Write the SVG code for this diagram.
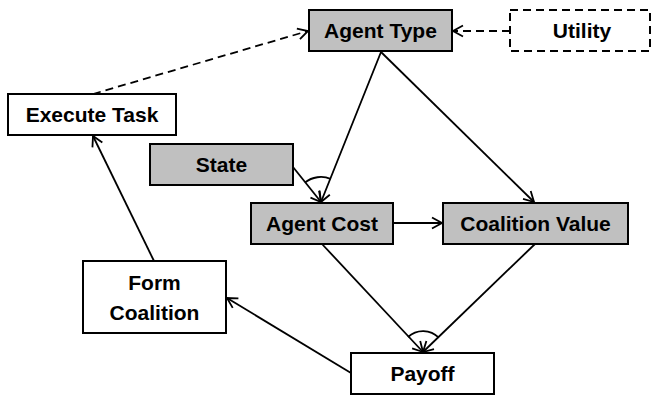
<svg xmlns="http://www.w3.org/2000/svg" width="652" height="397" viewBox="0 0 652 397">
<style>
.box{stroke:#000;stroke-width:2}
.g{fill:#c0c0c0}
.w{fill:#fff}
.dash{stroke-dasharray:8,5}
.lbl{font-family:"Liberation Sans",Arial,sans-serif;font-weight:bold;font-size:21px;fill:#000;text-anchor:middle}
.c{stroke:#000;stroke-width:1.8;fill:none}
</style>
<defs>
<marker id="ah" markerUnits="userSpaceOnUse" markerWidth="14" markerHeight="14" refX="11" refY="7" orient="auto" viewBox="0 0 14 14">
<path d="M1,1.5 L11,7 L1,12.5" fill="none" stroke="#000" stroke-width="1.8"/>
</marker>
</defs>
<rect width="652" height="397" fill="#fff"/>
<g id="connectors">
<line class="c dash" x1="93" y1="94" x2="308" y2="31" marker-end="url(#ah)"/>
<line class="c dash" x1="510" y1="31" x2="453" y2="31" marker-end="url(#ah)"/>
<line class="c" x1="381" y1="52" x2="321" y2="202" marker-end="url(#ah)"/>
<line class="c" x1="293" y1="167" x2="321" y2="202" marker-end="url(#ah)"/>
<path class="c" d="M305,182.5 A26,26 0 0 1 330.6,178.8"/>
<line class="c" x1="381" y1="52" x2="534" y2="202" marker-end="url(#ah)"/>
<line class="c" x1="393" y1="223" x2="442" y2="223" marker-end="url(#ah)"/>
<line class="c" x1="322" y1="244" x2="423" y2="352" marker-end="url(#ah)"/>
<line class="c" x1="535" y1="244" x2="423" y2="352" marker-end="url(#ah)"/>
<path class="c" d="M408,337 A22,22 0 0 1 438.8,337.7"/>
<line class="c" x1="351" y1="373" x2="227" y2="298" marker-end="url(#ah)"/>
<line class="c" x1="154" y1="261" x2="93" y2="136" marker-end="url(#ah)"/>
</g>
<g id="agent-type"><rect class="box g" x="309" y="10" width="143" height="41"/><text class="lbl" x="380.5" y="38">Agent Type</text></g>
<g id="utility"><rect class="box w dash" x="510" y="10" width="140" height="41"/><text class="lbl" x="582" y="38">Utility</text></g>
<g id="execute-task"><rect class="box w" x="8" y="94" width="168" height="41"/><text class="lbl" x="92" y="122">Execute Task</text></g>
<g id="state"><rect class="box g" x="150" y="144" width="143" height="41"/><text class="lbl" x="221.5" y="172">State</text></g>
<g id="agent-cost"><rect class="box g" x="251" y="203" width="142" height="41"/><text class="lbl" x="322" y="231">Agent Cost</text></g>
<g id="coalition-value"><rect class="box g" x="443" y="203" width="185" height="41"/><text class="lbl" x="535.5" y="231">Coalition Value</text></g>
<g id="form-coalition"><rect class="box w" x="83" y="261" width="143" height="72"/><text class="lbl" x="154.5" y="290">Form</text><text class="lbl" x="154.5" y="320">Coalition</text></g>
<g id="payoff"><rect class="box w" x="351" y="353" width="143" height="41"/><text class="lbl" x="422.5" y="381">Payoff</text></g>
</svg>
